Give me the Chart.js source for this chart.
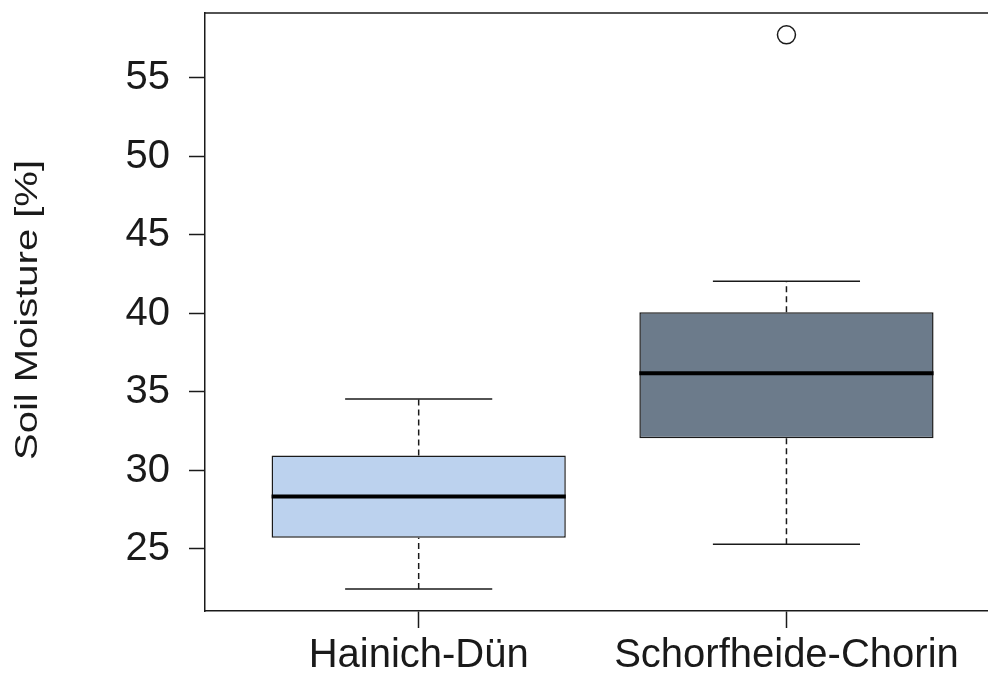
<!DOCTYPE html>
<html>
<head>
<meta charset="utf-8">
<script src="https://cdn.jsdelivr.net/npm/chart.js@4"></script>
<style>
  body { margin: 0; background: #fff; overflow: hidden; }
  #wrap { width: 988px; height: 679px; position: relative; }
</style>
</head>
<body>
<div id="wrap"><canvas id="chart"></canvas></div>
<script>
// --- DATA ---
const categories = ['Hainich-Dün', 'Schorfheide-Chorin'];
const positions = [1, 2];
const lowerWhisker = [22.45, 25.3];
const q1 = [25.72, 32.05];
const median = [28.35, 36.2];
const q3 = [30.95, 40.08];
const upperWhisker = [34.55, 42.05];
const outliers = [[], [57.75]];
const yTicks = [25, 30, 35, 40, 45, 50, 55];
const boxColors = ['#BCD2EE', '#6C7B8B'];

const yTitle = 'Soil Moisture [%]';
const ink = '#1a1a1a';
const capHalf = 0.2;   // whisker cap half width, in x units
const boxHalf = 0.4;   // median line half width

// --- build datasets ---
const datasets = [];

// medians (drawn on top)
positions.forEach((p, i) => {
  datasets.push({
    type: 'line', order: 0,
    data: [{x: p - boxHalf, y: median[i]}, {x: p + boxHalf, y: median[i]}],
    borderColor: '#000', borderWidth: 4, pointRadius: 0
  });
});

// whiskers (dashed) and caps
positions.forEach((p, i) => {
  datasets.push({
    type: 'line', order: 2,
    data: [{x: p, y: q3[i]}, {x: p, y: upperWhisker[i]}],
    borderColor: ink, borderWidth: 1.5, borderDash: [6, 4], pointRadius: 0
  });
  datasets.push({
    type: 'line', order: 2,
    data: [{x: p, y: lowerWhisker[i]}, {x: p, y: q1[i]}],
    borderColor: ink, borderWidth: 1.5, borderDash: [6, 4], pointRadius: 0
  });
  datasets.push({
    type: 'line', order: 2,
    data: [{x: p - capHalf, y: upperWhisker[i]}, {x: p + capHalf, y: upperWhisker[i]}],
    borderColor: ink, borderWidth: 1.5, pointRadius: 0
  });
  datasets.push({
    type: 'line', order: 2,
    data: [{x: p - capHalf, y: lowerWhisker[i]}, {x: p + capHalf, y: lowerWhisker[i]}],
    borderColor: ink, borderWidth: 1.5, pointRadius: 0
  });
});

// boxes as floating bars
datasets.push({
  type: 'bar', order: 3,
  data: positions.map((p, i) => ({x: p, y: [q1[i], q3[i]]})),
  backgroundColor: boxColors,
  borderColor: ink, borderWidth: 1.5, borderSkipped: false,
  categoryPercentage: 1, barPercentage: 0.8
});

// outliers
const outPts = [];
positions.forEach((p, i) => outliers[i].forEach(v => outPts.push({x: p, y: v})));
datasets.push({
  type: 'scatter', order: 1,
  data: outPts,
  pointStyle: 'circle', pointRadius: 9,
  pointBackgroundColor: '#fff', pointBorderColor: ink, pointBorderWidth: 1.5
});

// --- frame top line + rotated y title ---
const extras = {
  id: 'extras',
  afterDraw(chart) {
    const {ctx, chartArea} = chart;
    ctx.save();
    ctx.strokeStyle = ink;
    ctx.lineWidth = 1.5;
    ctx.beginPath();
    ctx.moveTo(chartArea.left, chartArea.top);
    ctx.lineTo(chartArea.right, chartArea.top);
    ctx.stroke();
    // y title
    ctx.translate(37, 310);
    ctx.rotate(-Math.PI / 2);
    ctx.scale(1, 0.8);
    ctx.font = '40px "Liberation Sans", Arial, sans-serif';
    ctx.fillStyle = ink;
    ctx.textAlign = 'center';
    ctx.textBaseline = 'alphabetic';
    ctx.fillText(yTitle, 0, 0);
    ctx.restore();
  }
};

const font = {family: '"Liberation Sans", Arial, sans-serif', size: 40};

function noPad(s) {
  s.paddingTop = 0; s.paddingBottom = 0;
  s.paddingLeft = 0; s.paddingRight = 0;
}

new Chart(document.getElementById('chart'), {
  type: 'bar',
  data: {datasets},
  options: {
    responsive: true,
    maintainAspectRatio: false,
    animation: false,
    layout: {autoPadding: false, padding: {top: 13, right: 0, left: 0, bottom: 0}},
    plugins: {legend: {display: false}, tooltip: {enabled: false}},
    scales: {
      x: {
        type: 'linear',
        offset: false,
        min: 0.419, max: 2.548,
        afterBuildTicks: s => { s.ticks = positions.map(v => ({value: v})); },
        afterFit: s => { s.height = 68; noPad(s); },
        grid: {drawOnChartArea: false, offset: false, tickLength: 17, color: ink, tickWidth: 1.5},
        border: {color: ink, width: 1.5},
        ticks: {
          font, color: ink, padding: 4, maxRotation: 0, autoSkip: false,
          callback: v => categories[positions.indexOf(v)]
        }
      },
      y: {
        type: 'linear',
        min: 21.05, max: 59.14,
        afterBuildTicks: s => { s.ticks = yTicks.map(v => ({value: v})); },
        afterFit: s => { s.width = 205; noPad(s); },
        grid: {drawOnChartArea: false, tickLength: 16, color: ink, tickWidth: 1.5},
        border: {color: ink, width: 1.5},
        ticks: {font, color: ink, padding: 19}
      }
    }
  },
  plugins: [extras]
});
</script>
</body>
</html>
